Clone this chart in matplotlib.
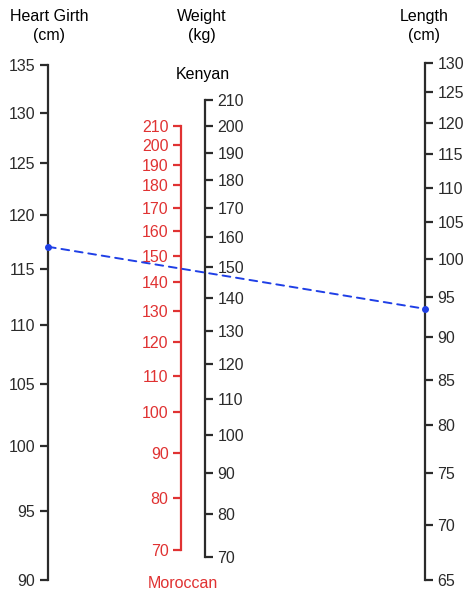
import numpy as np
import matplotlib.pyplot as plt
from matplotlib.patches import ConnectionPatch
from matplotlib.ticker import NullLocator

plt.rcParams['font.family'] = ['Liberation Sans', 'DejaVu Sans']

# scale values
girth_ticks = list(range(90, 136, 5))
length_ticks = list(range(65, 131, 5))
kenyan_ticks = list(range(70, 211, 10))
moroccan_ticks = list(range(70, 211, 10))

# example reading drawn on the nomogram
girth_value = 117
length_value = 93.5

W, H = 468, 590
fig = plt.figure(figsize=(W / 100, H / 100), dpi=100)

dark = '#2b2b2b'
red = '#e03232'
blue = '#1f3fe6'
fs = 11.5


def make_axis(xpix, top_pix, bot_pix, side, scale, ticks, color):
    w = 0.001
    x0 = xpix / W if side == 'left' else xpix / W - w
    ax = fig.add_axes([x0, (H - bot_pix) / H, w, (bot_pix - top_pix) / H])
    ax.patch.set_visible(False)
    for s in ['top', 'bottom', 'left', 'right']:
        ax.spines[s].set_visible(s == side)
    ax.spines[side].set_color(color)
    ax.spines[side].set_linewidth(1.6)
    if scale == 'sqrt':
        ax.set_yscale('function', functions=(np.sqrt, np.square))
    else:
        ax.set_yscale(scale)
    ax.set_ylim(min(ticks), max(ticks))
    ax.set_yticks(ticks)
    ax.set_yticklabels([str(t) for t in ticks])
    ax.yaxis.set_minor_locator(NullLocator())
    ax.yaxis.set_ticks_position(side)
    ax.set_xticks([])
    ax.set_xlim(0, 1)
    ax.tick_params(axis='y', length=6, width=1.6, color=color, labelcolor=color,
                   labelsize=fs, pad=3)
    return ax


ax_girth = make_axis(48, 65, 580, 'left', 'log', girth_ticks, dark)
ax_moro = make_axis(181, 126, 550, 'left', 'log', moroccan_ticks, red)
ax_ken = make_axis(205, 100, 557, 'right', 'sqrt', kenyan_ticks, dark)
ax_len = make_axis(425, 63, 580, 'right', 'log', length_ticks, dark)

# connecting line
con = ConnectionPatch(xyA=(0, girth_value), coordsA=ax_girth.transData,
                      xyB=(1, length_value), coordsB=ax_len.transData,
                      color=blue, linewidth=1.4, linestyle=(0, (4, 3)), zorder=5)
fig.add_artist(con)
ax_girth.plot([0], [girth_value], 'o', color=blue, ms=4, clip_on=False, zorder=6)
ax_len.plot([1], [length_value], 'o', color=blue, ms=4, clip_on=False, zorder=6)
ax_girth.set_xlim(0, 1)
ax_len.set_xlim(0, 1)

# titles
fig.text(49 / W, 1 - 26 / H, 'Heart Girth\n(cm)', ha='center', va='center',
         fontsize=fs, linespacing=1.3, color='black')
fig.text(202 / W, 1 - 26 / H, 'Weight\n(kg)', ha='center', va='center',
         fontsize=fs, linespacing=1.3, color='black')
fig.text(424 / W, 1 - 26 / H, 'Length\n(cm)', ha='center', va='center',
         fontsize=fs, linespacing=1.3, color='black')
fig.text(203 / W, 1 - 75 / H, 'Kenyan', ha='center', va='center',
         fontsize=fs, color='black')
fig.text(183 / W, 1 - 583 / H, 'Moroccan', ha='center', va='center',
         fontsize=fs, color=red)

fig.savefig('out.png', dpi=100)
